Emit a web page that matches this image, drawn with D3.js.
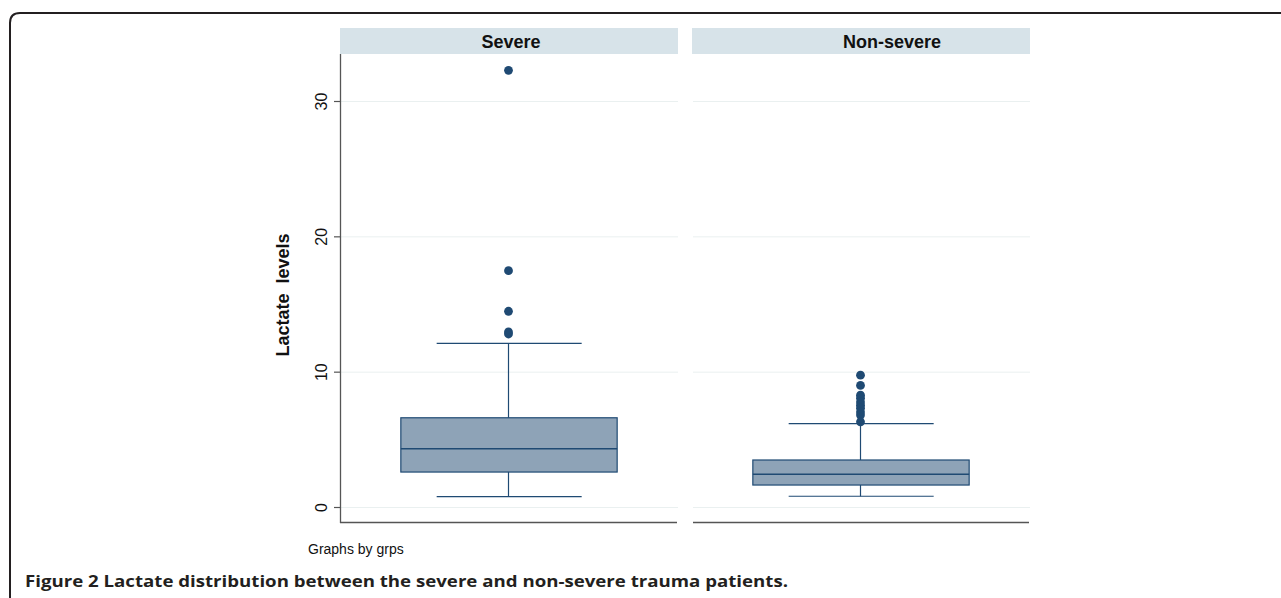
<!DOCTYPE html>
<html><head><meta charset="utf-8">
<script src="https://cdn.jsdelivr.net/npm/d3@7"></script>
<style>body{margin:0;background:#fff;}svg{display:block;}</style>
</head><body>
<script>
const groups = ["Severe", "Non-severe"];
const q1 = [2.62, 1.66];
const median = [4.35, 2.45];
const q3 = [6.63, 3.51];
const whiskerLow = [0.8, 0.83];
const whiskerHigh = [12.13, 6.2];
const outliersSevere = [32.3, 17.5, 14.5, 12.97, 12.82];
const outliersNonSevere = [9.78, 9.02, 8.3, 8.08, 7.79, 7.56, 7.34, 7.05, 6.83, 6.33];
const yTicks = [0, 10, 20, 30];

const W = 1281, H = 598;
const svg = d3.select("body").append("svg").attr("width", W).attr("height", H);

// figure border
svg.append("path")
  .attr("d", "M10,600 L10,23 Q10,13 20,13 L1290,13")
  .attr("fill", "none").attr("stroke", "#231f20").attr("stroke-width", 2);

const y = d3.scaleLinear().domain([0, 30]).range([507.5, 101.5]);
const panels = [{x0: 340, x1: 678, lx: 511}, {x0: 692, x1: 1030, lx: 892}];
const outliers = [outliersSevere, outliersNonSevere];
const dark = "#1f4a73";
const fill = "#8ea3b7";

panels.forEach((p, i) => {
  const g = svg.append("g");
  const xs = d3.scaleLinear().domain([0, 1]).range([p.x0, p.x1]);
  // header
  g.append("rect").attr("x", p.x0).attr("y", 28).attr("width", p.x1 - p.x0).attr("height", 26).attr("fill", "#d7e3e9");
  g.append("text").attr("x", p.lx).attr("y", 48).attr("text-anchor", "middle")
    .attr("font-family", "Liberation Sans, Arial, sans-serif").attr("font-weight", "bold").attr("font-size", 18)
    .attr("fill", "#111").text(groups[i]);
  // gridlines
  yTicks.forEach(t => {
    g.append("line").attr("x1", p.x0 + 1).attr("x2", p.x1).attr("y1", y(t)).attr("y2", y(t))
      .attr("stroke", "#eaf0f0").attr("stroke-width", 1);
  });
  // bottom axis line
  g.append("line").attr("x1", p.x0 + (i === 0 ? 0 : 1)).attr("x2", p.x1 - 1).attr("y1", 522.5).attr("y2", 522.5)
    .attr("stroke", "#555").attr("stroke-width", 1.3);
  const cx = xs(0.5) - 0.5;
  const bx0 = xs(0.18), bx1 = xs(0.82);
  const wx0 = xs(0.286), wx1 = xs(0.715);
  // whisker stem
  g.append("line").attr("x1", cx).attr("x2", cx).attr("y1", y(whiskerHigh[i])).attr("y2", y(whiskerLow[i]))
    .attr("stroke", dark).attr("stroke-width", 1.2);
  // caps
  [whiskerHigh[i], whiskerLow[i]].forEach(v => {
    g.append("line").attr("x1", wx0).attr("x2", wx1).attr("y1", y(v)).attr("y2", y(v))
      .attr("stroke", dark).attr("stroke-width", 1.2);
  });
  // box
  g.append("rect").attr("x", bx0).attr("y", y(q3[i])).attr("width", bx1 - bx0).attr("height", y(q1[i]) - y(q3[i]))
    .attr("fill", fill).attr("stroke", dark).attr("stroke-width", 1.2);
  g.append("line").attr("x1", bx0).attr("x2", bx1).attr("y1", y(median[i])).attr("y2", y(median[i]))
    .attr("stroke", dark).attr("stroke-width", 1.5);
  // outliers
  outliers[i].forEach(v => {
    g.append("circle").attr("cx", cx).attr("cy", y(v)).attr("r", 4.4).attr("fill", dark);
  });
});

// y axis
const axisG = svg.append("g");
axisG.append("line").attr("x1", 340.5).attr("x2", 340.5).attr("y1", 54).attr("y2", 523)
  .attr("stroke", "#555").attr("stroke-width", 1.3);
yTicks.forEach(t => {
  axisG.append("line").attr("x1", 334).attr("x2", 340).attr("y1", y(t)).attr("y2", y(t)).attr("stroke", "#555").attr("stroke-width", 1.2);
  axisG.append("text").attr("transform", `translate(327,${y(t)}) rotate(-90)`).attr("text-anchor", "middle")
    .attr("font-family", "Liberation Sans, Arial, sans-serif").attr("font-size", 16).attr("fill", "#111").text(t);
});
svg.append("text").attr("transform", "translate(289,295) rotate(-90)").attr("text-anchor", "middle")
  .attr("font-family", "Liberation Sans, Arial, sans-serif").attr("font-weight", "bold").attr("font-size", 18)
  .attr("fill", "#111").attr("xml:space", "preserve").text("Lactate  levels");

svg.append("text").attr("x", 308).attr("y", 554)
  .attr("font-family", "Liberation Sans, Arial, sans-serif").attr("font-size", 14).attr("fill", "#111").text("Graphs by grps");

svg.append("text").attr("x", 25).attr("y", 587)
  .attr("font-family", "Open Sans, sans-serif").attr("font-weight", "bold").attr("font-size", 16).attr("fill", "#231f20")
  .attr("textLength", 763).attr("lengthAdjust", "spacingAndGlyphs")
  .text("Figure 2 Lactate distribution between the severe and non-severe trauma patients.");
</script>
</body></html>
